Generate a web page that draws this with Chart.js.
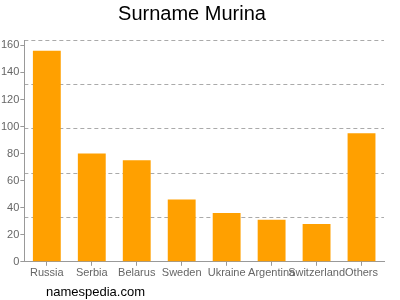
<!DOCTYPE html>
<html>
<head>
<meta charset="utf-8">
<script src="https://cdn.jsdelivr.net/npm/chart.js@4"></script>
<style>
  html, body { margin: 0; padding: 0; background: #fff; }
  #wrap { position: relative; width: 400px; height: 300px; }
  #source {
    position: absolute;
    left: 46px;
    top: 284px;
    font: 13px Arial, "Liberation Sans", sans-serif;
    color: #000;
  }
</style>
</head>
<body>
<div id="wrap">
  <canvas id="chart" width="400" height="300"></canvas>
  <div id="source">namespedia.com</div>
</div>
<script>
// data
const countries = ["Russia", "Serbia", "Belarus", "Sweden", "Ukraine", "Argentina", "Switzerland", "Others"];
const counts = [156, 80, 75, 46, 36, 31, 28, 95];
const yTicks = [0, 20, 40, 60, 80, 100, 120, 140, 160];

const axisTop = 164; // top of the plot sits a bit above 160
const gridSteps = 5; // dashed lines split the plot in 5 equal parts

const ctx = document.getElementById("chart");

new Chart(ctx, {
  type: "bar",
  data: {
    labels: countries,
    datasets: [
      {
        data: counts,
        backgroundColor: "#ffa000",
        borderWidth: 0,
        categoryPercentage: 1,
        barPercentage: 0.62,
      },
    ],
  },
  options: {
    responsive: false,
    animation: false,
    layout: { padding: { left: 0, right: 16, top: 0, bottom: 19 } },
    plugins: {
      legend: { display: false },
      tooltip: { enabled: false },
      title: {
        display: true,
        text: "Surname Murina",
        color: "#000",
        font: { family: "Arial, Liberation Sans, sans-serif", size: 20, weight: "normal" },
        padding: { top: 2, bottom: 14 },
      },
    },
    scales: {
      x: {
        grid: { drawOnChartArea: false, offset: false, tickLength: 4, color: "#999" },
        border: { color: "#999" },
        ticks: {
          color: "#666",
          maxRotation: 0,
          autoSkip: false,
          padding: 1,
          font: { family: "Arial, Liberation Sans, sans-serif", size: 11 },
        },
      },
      y: {
        min: 0,
        max: axisTop,
        afterBuildTicks: (axis) => {
          axis.ticks = yTicks.map((v) => ({ value: v }));
        },
        grid: { drawOnChartArea: false, tickLength: 4, color: "#999" },
        border: { color: "#999" },
        ticks: {
          color: "#666",
          padding: 1,
          font: { family: "Arial, Liberation Sans, sans-serif", size: 11 },
        },
      },
      // dashed grid lines, evenly spaced, not tied to the tick labels
      y2: {
        position: "right",
        min: 0,
        max: axisTop,
        afterBuildTicks: (axis) => {
          const t = [];
          for (let i = 1; i <= gridSteps; i++) t.push({ value: (axisTop / gridSteps) * i });
          axis.ticks = t;
        },
        afterFit: (axis) => {
          axis.width = 0;
        },
        grid: { color: "#aaa", drawTicks: false },
        border: { display: false, dash: [4, 3] },
        ticks: { display: false },
      },
    },
  },
});
</script>
</body>
</html>
